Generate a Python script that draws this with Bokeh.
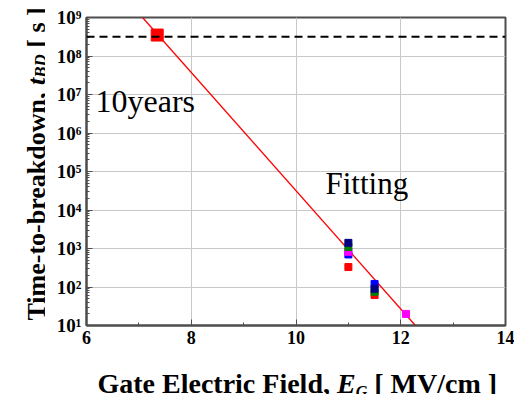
import math
from bokeh.plotting import figure
from bokeh.layouts import row, column
from bokeh.models import Label, FixedTicker, LogTicker, CustomJSTickFormatter, Span, Range1d
from bokeh.core.properties import value
from bokeh.embed import file_html
from bokeh.resources import INLINE

# ---------------- data ----------------
red_E = [11.0, 11.5]
red_t = [330, 62]
blue_E = [11.0, 11.5]
blue_t = [700, 120]
pink_E = [11.0, 12.1]
pink_t = [820, 20]
green_E = [11.0, 11.5]
green_t = [1100, 75]
navy_E = [11.0, 11.5]
navy_t = [1400, 90]
ten_years_E = [7.35]
ten_years_t = [3.5e8]
ten_years_s = 3.1536e8
fit_E = [7.07, 12.28]
fit_t = [1e9, 1e1]
x_ticks = [6, 8, 10, 12, 14]

FONT = "Liberation Serif"
AX = "#4d4d4d"

p = figure(width=469, height=350, x_range=(6, 14), y_range=(10, 1e9),
           y_axis_type="log", output_backend="svg", toolbar_location=None,
           min_border_left=41, min_border_right=9, min_border_top=17,
           min_border_bottom=25)
p.background_fill_color = "white"
p.border_fill_color = "white"
p.outline_line_color = AX
p.outline_line_width = 2

p.xaxis.ticker = FixedTicker(ticks=x_ticks, minor_ticks=[7, 9, 11, 13])
p.yaxis.ticker = LogTicker(num_minor_ticks=10)
p.yaxis.formatter = CustomJSTickFormatter(code="""
const sup = {'0':'\u2070','1':'\u00b9','2':'\u00b2','3':'\u00b3','4':'\u2074','5':'\u2075','6':'\u2076','7':'\u2077','8':'\u2078','9':'\u2079','-':'\u207b'};
const e = Math.round(Math.log10(tick));
return '10' + String(e).split('').map(c => sup[c]).join('');
""")
for ax in (p.xaxis, p.yaxis):
    ax.axis_line_color = AX
    ax.axis_line_width = 2
    ax.major_tick_line_color = AX
    ax.minor_tick_line_color = AX
    ax.major_tick_in = 6
    ax.major_tick_out = 0
    ax.minor_tick_in = 3
    ax.minor_tick_out = 0
    ax.major_label_text_font = FONT
    ax.major_label_text_font_style = "bold"
    ax.major_label_text_font_size = "18px"
    ax.major_label_text_color = "black"
    ax.major_label_standoff = 5
p.yaxis.major_label_text_font_size = "19px"

p.xgrid.grid_line_color = "#c8c8c8"
p.ygrid.grid_line_color = "#c8c8c8"
p.xgrid.ticker = FixedTicker(ticks=[8, 10, 12])

p.add_layout(Span(location=ten_years_s, dimension="width", line_color="black",
                  line_dash="8 5", line_width=2))

p.line(fit_E, fit_t, line_color="red", line_width=1.3)

sz = 7
p.scatter(red_E, red_t, marker="square", size=sz, color="red")
p.scatter(blue_E, blue_t, marker="square", size=sz, color="blue")
p.scatter(pink_E, pink_t, marker="square", size=sz, color="magenta")
p.scatter(green_E, green_t, marker="square", size=sz, color="green")
p.scatter(navy_E, navy_t, marker="square", size=sz, color="navy")
p.scatter(ten_years_E, ten_years_t, marker="square", size=12, color="red")

p.add_layout(Label(x=9, y=207, x_units="screen", y_units="screen", text="10years",
                   text_font=FONT, text_font_size="32px", text_color="black"))
p.add_layout(Label(x=239, y=125, x_units="screen", y_units="screen", text="Fitting",
                   text_font=FONT, text_font_size="31px", text_color="black"))

# ----- composite axis titles (separate blank panels) -----
W_B = {' ': 250, ',': 250, '-': 333, '/': 278, '[': 333, ']': 333, 'B': 667, 'D': 722,
       'E': 667, 'F': 611, 'G': 778, 'M': 944, 'T': 667, 'V': 722, 'a': 500, 'b': 556,
       'c': 444, 'd': 556, 'e': 444, 'i': 278, 'k': 556, 'l': 278, 'm': 833, 'n': 556,
       'o': 500, 'r': 444, 's': 389, 't': 333, 'w': 722}
W_BI = {'t': 278, 'E': 667, 'B': 667, 'D': 722, 'G': 722}


def width(txt, size, italic):
    tbl = W_BI if italic else W_B
    return sum(tbl.get(c, 500) for c in txt) * size / 1000.0


def blank(w, h, xr, yr):
    f = figure(width=w, height=h, x_range=Range1d(*xr), y_range=Range1d(*yr),
               output_backend="svg", toolbar_location=None, min_border=0,
               x_axis_location=None, y_axis_location=None)
    f.grid.visible = False
    f.outline_line_color = None
    f.background_fill_color = "white"
    f.border_fill_color = "white"
    return f


def title(f, pieces, x0, y0, vertical):
    pos = 0.0
    for txt, size, italic, shift in pieces:
        lead = len(txt) - len(txt.lstrip(" "))
        pos += lead * 250 * size / 1000.0
        txt = txt.lstrip(" ")
        if vertical:
            lx, ly, ang = x0 + shift, y0 + pos, math.pi / 2
        else:
            lx, ly, ang = x0 + pos, y0 + shift, 0
        f.text(x=[lx], y=[ly], text=[txt], angle=ang, text_font=value(FONT),
               text_font_size=f"{size}px",
               text_font_style="bold italic" if italic else "bold",
               text_color="black", text_baseline="alphabetic", text_align="left")
        pos += width(txt, size, italic)


left = blank(45, 394, (0, 45), (0, 394))
# the column aligns this panel's frame with the main frame (canvas x 86..505)
bottom = blank(469, 44, (86, 505), (0, 44))

title(bottom, [("Gate Electric Field, ", 28, False, 0), ("E", 28, True, 0),
               ("G", 16, True, -8), (" [ MV/cm ]", 28, False, 0)], 97, 11, False)
title(left, [("Time-to-breakdown, ", 26, False, 0), ("t", 26, True, 0),
             ("BD", 17, True, 4), (" [ s ]", 26, False, 0)], 36, 74, True)

layout = row(left, column(p, bottom, spacing=0), spacing=0)

open("out.html", "w").write(file_html(layout, INLINE))
